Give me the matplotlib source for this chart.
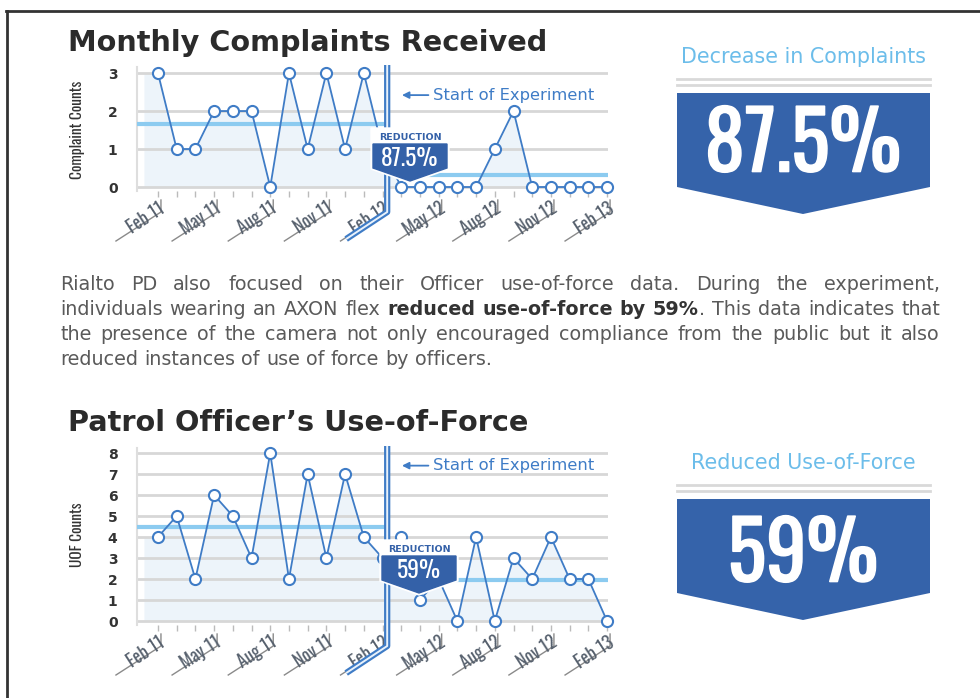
import numpy as np
import matplotlib
matplotlib.use('Agg')
import matplotlib.pyplot as plt
import matplotlib.patheffects as pe
from matplotlib.lines import Line2D
from matplotlib.patches import Polygon

# monthly values, Feb 2011 .. Feb 2013
tick_labels = ['Feb 11', 'May 11', 'Aug 11', 'Nov 11', 'Feb 12',
               'May 12', 'Aug 12', 'Nov 12', 'Feb 13']
complaints = [3, 1, 1, 2, 2, 2, 0, 3, 1, 3, 1, 3, 1,
              0, 0, 0, 0, 0, 1, 2, 0, 0, 0, 0, 0]
uof = [4, 5, 2, 6, 5, 3, 8, 2, 7, 3, 7, 4, 3,
       4, 1, 2, 0, 4, 0, 3, 2, 4, 2, 2, 0]
complaints_avg = [1.65, 0.31]   # before / after the start of the experiment
uof_avg = [4.5, 1.95]
experiment_start = 12.25
complaints_cut = '87.5%'
uof_cut = '59%'

para = [
    'Rialto PD also focused on their Officer use-of-force data. During the experiment,',
    'individuals wearing an AXON flex **reduced use-of-force by 59%**. This data indicates that',
    'the presence of the camera not only encouraged compliance from the public but it also',
    'reduced instances of use of force by officers.',
]

W, H = 980, 698
BLUE = '#3f7cc6'
DARK = '#3461a8'
LIGHT = '#8ccbf0'
COND = ['Oswald', 'Roboto Condensed', 'PT Sans Narrow', 'Roboto']
SANS = ['DejaVu Sans']
fig = plt.figure(figsize=(W / 100, H / 100), dpi=100)
r = fig.canvas.get_renderer()


def fx(x):
    return x / W


def fy(y):
    return 1 - y / H


def fline(xs, ys, **kw):
    fig.add_artist(Line2D([fx(x) for x in xs], [fy(y) for y in ys],
                          transform=fig.transFigure, **kw))


def fpoly(pts, **kw):
    fig.add_artist(Polygon([(fx(x), fy(y)) for x, y in pts], closed=True,
                           transform=fig.transFigure, **kw))


def to_px(ax, x, y):
    dx, dy = ax.transData.transform((x, y))
    return dx, H - dy


def badge(cx, ty, txt):
    fpoly([(cx - 39, ty - 2), (cx + 39, ty - 2), (cx + 39, ty + 39),
           (cx, ty + 53), (cx - 39, ty + 39)], color='white', zorder=5)
    fig.text(fx(cx), fy(ty + 7), 'REDUCTION', ha='center', va='center',
             fontsize=6.8, weight='bold', family=SANS, color=DARK, zorder=6)
    fpoly([(cx - 37, ty + 14), (cx + 37, ty + 14), (cx + 37, ty + 38),
           (cx, ty + 51), (cx - 37, ty + 38)], color=DARK, zorder=6)
    fig.text(fx(cx), fy(ty + 28), txt, ha='center', va='center', fontsize=17,
             weight='bold', family=COND, color='white', zorder=7)


def chart(top, bottom, values, avg, ylim, ylabel, ylab_y, note_y, cut, badge_xy):
    ax = fig.add_axes([fx(137), fy(bottom), (608 - 137) / W, (bottom - top) / H])
    x = np.arange(len(values))
    ax.set_xlim(-1.12, 24.05)
    ax.set_ylim(*ylim)
    nmax = int(max(values))
    for v in range(nmax + 1):
        ax.axhline(v, color='#d7d7d7', lw=2, zorder=2)
    ax.fill_between(np.r_[-0.75, x], np.r_[values[0], values], 0,
                    color='#edf4fa', lw=0, zorder=1)
    ax.plot([ax.get_xlim()[0], experiment_start], [avg[0]] * 2, color=LIGHT, lw=3, zorder=3)
    ax.plot([experiment_start, ax.get_xlim()[1]], [avg[1]] * 2, color=LIGHT, lw=3, zorder=3)
    ax.plot(x, values, color=BLUE, lw=1.3, marker='o', ms=8, mfc='white',
            mec=BLUE, mew=1.5, zorder=4, clip_on=False)
    for s in ['top', 'right', 'bottom']:
        ax.spines[s].set_visible(False)
    ax.spines['left'].set_color('#dedede')
    ax.spines['left'].set_linewidth(1.5)
    ax.set_yticks(range(nmax + 1))
    ax.set_yticklabels([str(v) for v in range(nmax + 1)], fontsize=10,
                       weight='bold', color='#333333', family=SANS)
    ax.tick_params(axis='y', length=0, pad=14)
    ax.set_xticks(x, minor=True)
    ax.set_xticks([])
    ax.tick_params(axis='x', which='minor', length=4, width=1, color='#bbbbbb',
                   labelbottom=False)
    ax.patch.set_alpha(0)
    fig.text(fx(77), fy(ylab_y), ylabel, rotation=90, ha='center', va='center',
             fontsize=11, family=COND, color='#333333')

    # rotated month labels with their little L-shaped underline
    for i, lab in zip(range(0, len(values), 3), tick_labels):
        px, p0 = to_px(ax, i, 0)
        fig.text(fx(px), fy(p0 + 12), lab, rotation=33, rotation_mode='anchor',
                 ha='right', va='top', fontsize=13, family=COND,
                 color='#56606d')
        xa, ya = px + 3, p0 + 13
        fline([xa, xa, xa - 45], [ya, ya + 12, ya + 12 + 29], color='#8a8a8a', lw=1)

    # start of experiment break line
    bx, by = to_px(ax, experiment_start, 0)
    tx, ty = to_px(ax, experiment_start, ylim[1])
    xs, ys = [bx, bx, bx - 41], [ty - 2, by + 25, by + 25 + 27]
    fline(xs, ys, color=BLUE, lw=4.5, solid_capstyle='butt', zorder=4)
    fline(xs, ys, color='#e9f2fb', lw=1.4, solid_capstyle='butt', zorder=4)

    # arrow + note
    _, ny = to_px(ax, 0, note_y)
    fig.add_artist(plt.Annotation('', xy=(fx(bx + 12), fy(ny)), xytext=(fx(bx + 44), fy(ny)),
                                  xycoords='figure fraction',
                                  arrowprops=dict(arrowstyle='-|>', color=BLUE, lw=1.3,
                                                  mutation_scale=10)))
    fig.text(fx(bx + 46), fy(ny), 'Start of Experiment', ha='left', va='center',
             fontsize=11.8, family=SANS, color=BLUE)
    badge(badge_xy[0], badge_xy[1], cut)
    return ax


def big_panel(top, caption, txt, num_dy):
    fig.text(fx(803), fy(top), caption, ha='center', va='center', fontsize=14.9,
             family=SANS, color='#6cbdea')
    fline([677, 930], [top + 22, top + 22], color='#d9d9d9', lw=2)
    fline([677, 930], [top + 28, top + 28], color='#d9d9d9', lw=2)
    fpoly([(677, top + 36), (930, top + 36), (930, top + 130), (803, top + 157),
           (677, top + 130)], color='#3563aa', lw=0)
    fig.text(fx(803), fy(top + num_dy), txt, ha='center', va='center', fontsize=58,
             weight='bold', family=COND, color='white',
             path_effects=[pe.withStroke(linewidth=1.2, foreground='white')])


# frame
fline([6, 980], [11, 11], color='#333333', lw=2)
fline([7, 7], [11, 698], color='#333333', lw=2)

fig.text(fx(68), fy(43), 'Monthly Complaints Received', fontsize=20.7, weight='bold',
         family=SANS, color='#2b2b2b', va='center')
fig.text(fx(68), fy(423), 'Patrol Officer\u2019s Use-of-Force', fontsize=20.7, weight='bold',
         family=SANS, color='#2b2b2b', va='center')

chart(67, 191, complaints, complaints_avg, (-0.105, 3.16), 'Complaint Counts', 130, 2.42,
      complaints_cut, (410, 130))
chart(448, 625, uof, uof_avg, (-0.19, 8.24), 'UOF Counts', 535, 7.4,
      uof_cut, (419, 542))

big_panel(57, 'Decrease in Complaints', complaints_cut, 90)
big_panel(463, 'Reduced Use-of-Force', uof_cut, 94)

# justified paragraph
FS = 13.8


def put(s, bold):
    t = fig.text(0, 0, s, fontsize=FS, family=SANS,
                 weight='bold' if bold else 'normal',
                 color='#333333' if bold else '#5a5a5a', va='baseline')
    return t, t.get_window_extent(renderer=r).width


t1, w1 = put('x x', False)
t2, w2 = put('xx', False)
space = w1 - w2
t1.remove()
t2.remove()

bold = False
for li, line in enumerate(para):
    words = []
    for w in line.split(' '):
        segs = []
        for k, s in enumerate(w.split('**')):
            if k > 0:
                bold = not bold
            if s:
                segs.append(put(s, bold))
        words.append(segs)
    total = sum(wd for segs in words for _, wd in segs)
    gap = space if li == len(para) - 1 else (880 - total) / (len(words) - 1)
    x = 60
    y = 290 + 25 * li
    for segs in words:
        for t, wd in segs:
            t.set_position((fx(x), fy(y)))
            x += wd
        x += gap

fig.savefig('out.png', dpi=100)
